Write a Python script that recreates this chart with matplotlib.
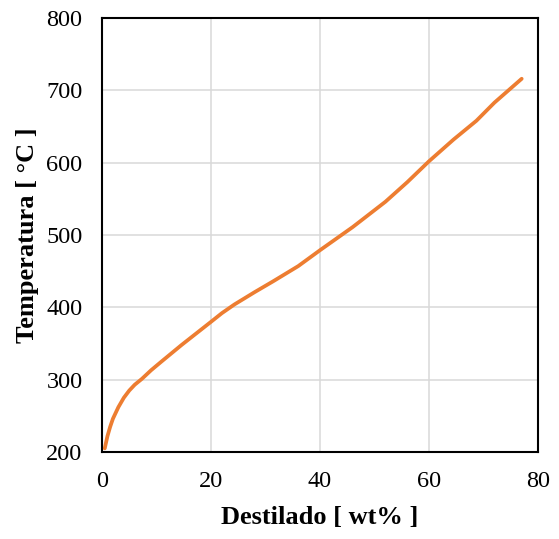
import matplotlib.pyplot as plt

plt.rcParams["font.family"] = ["Liberation Serif", "DejaVu Serif"]

destilado = [0.5, 1, 1.5, 2, 3, 4, 5, 6, 7.3, 9, 10.9, 14.6, 20, 22, 24.3,
             28, 31.4, 36, 40, 46, 52, 56, 60, 64.5, 68.7, 72, 77]
temperatura = [205, 222, 235, 246, 262, 275, 285, 293, 301, 313, 325, 348,
               380, 392, 404, 421, 436, 457, 479, 511, 546, 573, 602, 632,
               658, 683, 716]

fig = plt.figure(figsize=(5.59, 5.39), dpi=100)
ax = fig.add_axes([0.1825, 0.1614, 0.78, 0.8052])

ax.plot(destilado, temperatura, color="#ED7D31", lw=2.7,
        solid_joinstyle="round", solid_capstyle="round", zorder=3)

ax.set_xlim(0, 80)
ax.set_ylim(200, 800)
ax.set_xticks([0, 20, 40, 60, 80])
ax.set_yticks(range(200, 801, 100))
ax.grid(color="#d9d9d9", lw=1.1)
ax.set_axisbelow(True)
ax.tick_params(length=0, labelsize=17.5)
ax.tick_params(axis="x", pad=14)
ax.tick_params(axis="y", pad=14)
for s in ax.spines.values():
    s.set_linewidth(1.5)
    s.set_color("black")

ax.set_xlabel("Destilado [ wt% ]", fontsize=19, fontweight="bold", labelpad=10)
ax.set_ylabel("Temperatura [ °C ]", fontsize=19, fontweight="bold", labelpad=5)

fig.savefig("out.png", dpi=100)
